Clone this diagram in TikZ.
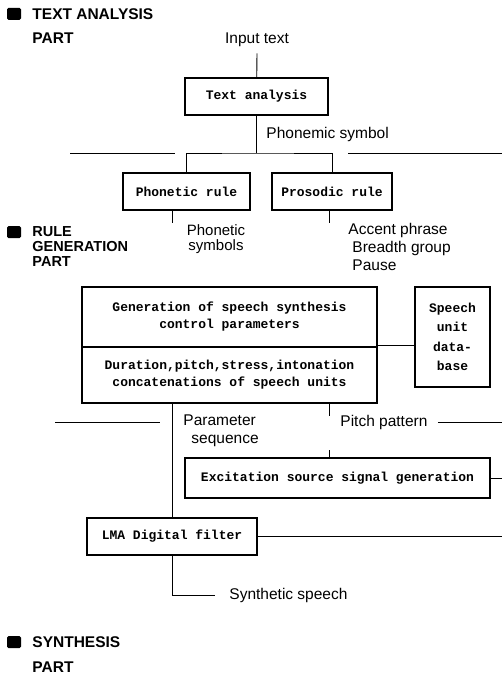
\documentclass[tikz,border=0pt]{standalone}
\usepackage{fontspec}
\setmainfont{Liberation Sans}
\setmonofont{Liberation Mono}
\usetikzlibrary{positioning}

\begin{document}
\begin{tikzpicture}[x=1pt,y=-1pt,line width=0.9pt,
    box/.style={draw, line width=#1, inner sep=0pt, align=center,
                font=\fontsize{13}{17}\selectfont\ttfamily\bfseries},
    lbl/.style={inner sep=0pt, align=left, font=\fontsize{15.5}{18}\selectfont},
    hdr/.style={inner sep=0pt, anchor=west, align=left,
                font=\fontsize{15.5}{13.5}\selectfont\bfseries},
    blt/.style={fill, rounded corners=1.5pt, minimum width=14pt,
                minimum height=12pt, inner sep=0pt}]
  \useasboundingbox (0,0) rectangle (502,677);
  % text analysis part
  \node[blt] (b1) at (14,14) {};
  \node[hdr] (h1) at (32,14) {TEXT ANALYSIS};
  \node[hdr] (h1p) at (32,38) {PART};
  \node[lbl] (in) at (257,40) {Input text};
  \node[box=1.5pt, minimum width=143pt, minimum height=37pt] (ta) at (256.5,96.5) {Text analysis};
  \node[lbl, anchor=west] (phs) at (266,134) {Phonemic symbol};
  \coordinate (br) at (256.5,153);
  \node[box=1.2pt, minimum width=127pt, minimum height=37pt] (ph) at (186.5,191.5) {Phonetic rule};
  \node[box=1.2pt, minimum width=120pt, minimum height=37pt] (pr) at (332,191.5) {Prosodic rule};
  \draw (in.south) ++(0,6) -- (ta);
  \draw (ta) -- (br);
  \draw (ph.north) |- (br) -| (pr.north);
  \draw (70,153) -- (175,153);
  \draw (348,153) -- (502,153);
  \draw ([xshift=-14.5pt]ph.south) -- ++(0,12);
  \draw ([xshift=-3pt]pr.south) -- ++(0,12);
  \node[lbl, anchor=north, align=center, font=\fontsize{15}{15.5}\selectfont] (phsy) at (216,224) {Phonetic\\symbols};
  \node[lbl, anchor=north west] (acc) at (348,223) {Accent phrase\\\hspace*{4pt}Breadth group\\\hspace*{4pt}Pause};
  % rule generation part
  \node[blt] (b2) at (14,232) {};
  \node[hdr, anchor=north west, font=\fontsize{14.5}{15}\selectfont\bfseries] (h2) at (32,226) {RULE\\GENERATION\\PART};
  \node[box=2.5pt, minimum width=295pt, minimum height=60pt] (gen) at (229.5,317) {Generation of speech synthesis\\control parameters};
  \node[box=2.5pt, minimum width=295pt, minimum height=56pt] (dur) at (229.5,375) {Duration,pitch,stress,intonation\\concatenations of speech units};
  \node[box=2pt, minimum width=75pt, minimum height=100pt,
        font=\fontsize{13}{19.5}\selectfont\ttfamily\bfseries] (db) at (452.5,337) {Speech\\unit\\data-\\base};
  \draw (dur.north east) -- (dur.north east -| db.west);
  \draw (55,422) -- (160,422);
  \node[lbl, anchor=north west] (par) at (183,414) {Parameter\\\hspace*{8pt}sequence};
  \node[lbl, anchor=west] (pp) at (340,422) {Pitch pattern};
  \draw (pp.east) ++(10,0) -- (502,422);
  % synthesis part
  \node[box=2.5pt, minimum width=305pt, minimum height=40pt] (exc) at (337.5,478) {Excitation source signal generation};
  \node[box=2.5pt, minimum width=170pt, minimum height=37pt] (lma) at (172,536.5) {LMA Digital filter};
  \draw ([xshift=99.5pt]dur.south) -- ++(0,12);
  \draw ([xshift=-8.5pt]exc.north) -- ++(0,-7);
  \draw (lma.north) -- (lma.north |- dur.south);
  \draw (exc.east) -- (502,478);
  \draw (lma.east) -- (502,536.5);
  \coordinate (out) at (215,595);
  \draw (lma.south) |- (out);
  \node[lbl, anchor=west] (syn) at (229,595) {Synthetic speech};
  \node[blt] (b3) at (14,642) {};
  \node[hdr] (h3) at (32,642) {SYNTHESIS};
  \node[hdr] (h3p) at (32,667) {PART};
\end{tikzpicture}
\end{document}
